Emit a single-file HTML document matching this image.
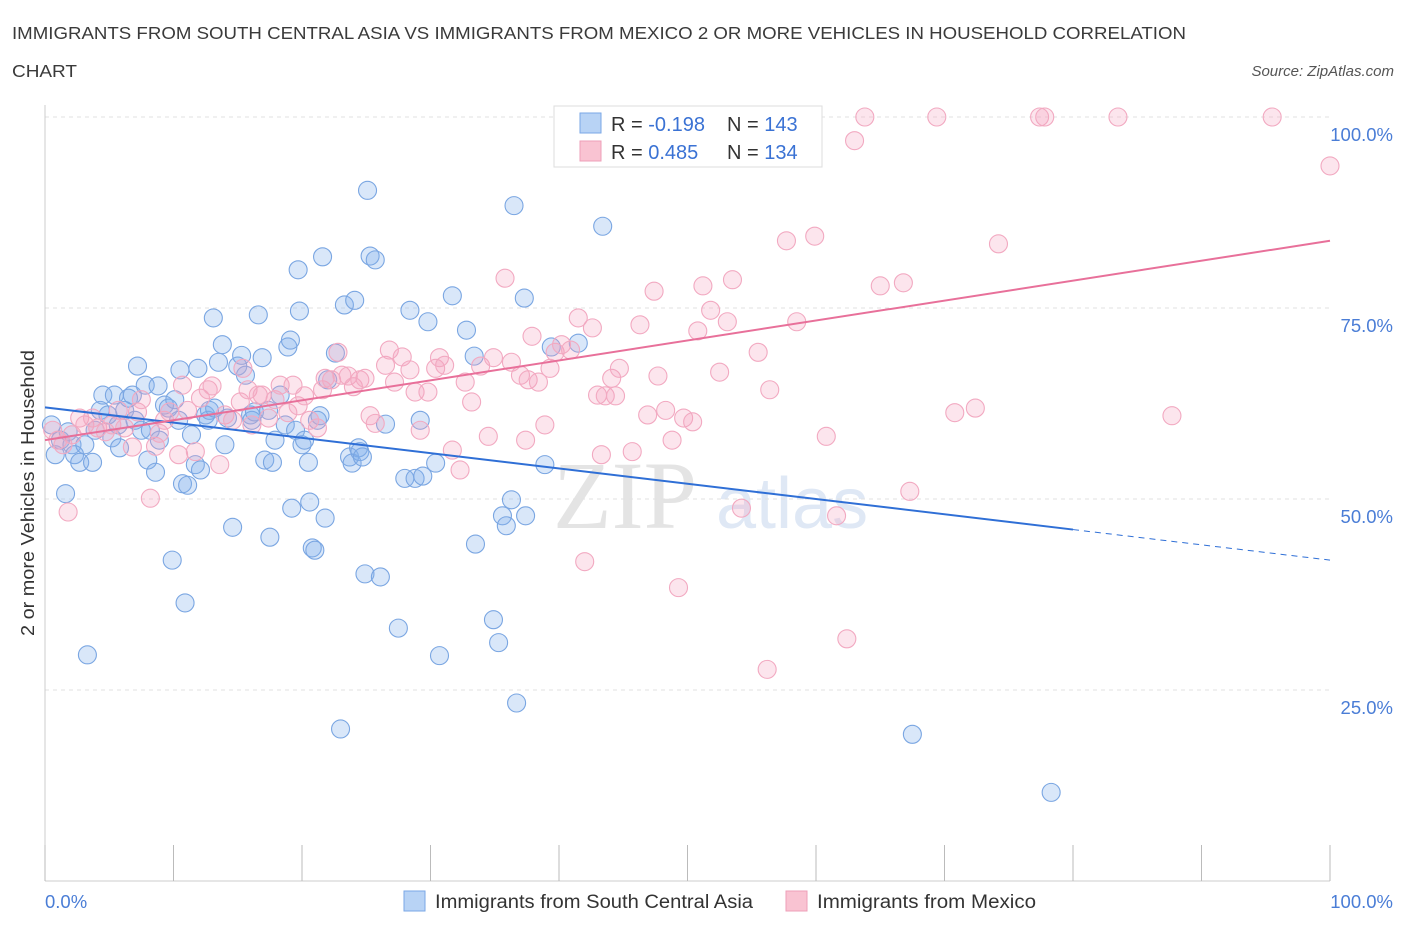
<!DOCTYPE html>
<html><head><meta charset="utf-8"><style>
body{margin:0;background:#fff;font-family:"Liberation Sans",sans-serif;}
</style></head><body>
<svg id="chart" width="1406" height="930" xmlns="http://www.w3.org/2000/svg" style="display:block">
<text x="12" y="39" font-size="17.5" fill="#3a3a3a" textLength="1174" lengthAdjust="spacingAndGlyphs">IMMIGRANTS FROM SOUTH CENTRAL ASIA VS IMMIGRANTS FROM MEXICO 2 OR MORE VEHICLES IN HOUSEHOLD CORRELATION</text>
<text x="12" y="77" font-size="17.5" fill="#3a3a3a" textLength="65" lengthAdjust="spacingAndGlyphs">CHART</text>
<text x="1394" y="76" font-size="15" fill="#555" font-style="italic" text-anchor="end">Source: ZipAtlas.com</text>
<text x="553" y="528" font-size="96" fill="#e4e4e4" font-family="Liberation Serif">ZIP</text>
<text x="716" y="528" font-size="72" fill="#dfe8f5">atlas</text>
<g id="grid"></g>
<g id="pts"></g>
<g id="trends"></g>
<text transform="translate(34,493) rotate(-90)" font-size="18.5" fill="#333" text-anchor="middle" textLength="286" lengthAdjust="spacingAndGlyphs">2 or more Vehicles in Household</text>
<text x="45" y="908" font-size="18.5" fill="#4a7dd6">0.0%</text>
<text x="1393" y="908" font-size="18.5" fill="#4a7dd6" text-anchor="end">100.0%</text>
<g>
<rect x="554" y="106" width="268" height="61" fill="#fff" stroke="#ddd"/>
<rect x="580" y="113" width="21" height="20" fill="#b8d3f5" stroke="#7aa7e6"/>
<rect x="580" y="141" width="21" height="20" fill="#f9c3d2" stroke="#ee9fb8"/>
<text x="611" y="131" font-size="20" fill="#333">R = <tspan fill="#3a72d4">-0.198</tspan></text>
<text x="727" y="131" font-size="20" fill="#333">N = <tspan fill="#3a72d4">143</tspan></text>
<text x="611" y="159" font-size="20" fill="#333">R = <tspan fill="#3a72d4"> 0.485</tspan></text>
<text x="727" y="159" font-size="20" fill="#333">N = <tspan fill="#3a72d4">134</tspan></text>
</g>
<g>
<rect x="404" y="891" width="21" height="20" fill="#b8d3f5" stroke="#7aa7e6"/>
<text x="435" y="908" font-size="19" fill="#333" textLength="318" lengthAdjust="spacingAndGlyphs">Immigrants from South Central Asia</text>
<rect x="786" y="891" width="21" height="20" fill="#f9c3d2" stroke="#ee9fb8"/>
<text x="817" y="908" font-size="19" fill="#333" textLength="219" lengthAdjust="spacingAndGlyphs">Immigrants from Mexico</text>
</g>
</svg>
<script>
const yTicks=[25,50,75,100];
const yTickLabels=["25.0%","50.0%","75.0%","100.0%"];
const xTicks=[0,10,20,30,40,50,60,70,80,90,100];
const blueX=[0.5,0.8,1.2,1.6,1.8,2.1,2.3,2.7,3.1,3.3,3.7,3.9,4.3,4.5,4.9,5.2,5.4,5.7,5.8,6.2,6.5,6.8,7.0,7.2,7.5,7.8,8.0,8.2,8.6,8.8,8.9,9.3,9.6,9.9,10.1,10.4,10.5,10.9,10.7,11.1,11.4,11.7,11.9,12.1,12.5,12.7,12.8,13.1,13.2,13.5,13.8,14.0,14.2,14.6,15.0,15.3,15.6,16.0,16.1,16.3,16.6,16.9,17.1,17.4,17.5,17.7,17.9,18.3,18.7,18.9,19.1,19.2,19.5,19.7,19.8,20.0,20.2,20.5,20.6,20.8,21.0,21.2,21.4,21.6,21.8,22.0,22.6,23.0,23.3,23.7,24.1,23.9,24.4,24.5,24.7,24.9,25.1,25.3,25.7,26.1,26.5,27.5,28.0,28.4,28.8,29.2,29.4,29.8,30.4,30.7,31.7,32.8,33.4,33.5,34.9,35.3,35.6,35.9,36.3,36.5,36.7,37.3,37.4,38.9,39.4,41.5,43.4,67.5,78.3];
const blueY=[59.7,55.8,57.7,50.7,58.8,57.1,55.8,54.8,57.1,29.6,54.8,59.0,61.6,63.6,61.0,58.0,63.6,59.7,56.7,61.6,63.2,63.6,60.3,67.4,59.0,64.9,55.1,59.0,53.5,64.8,57.7,62.3,61.9,42.0,63.0,60.3,66.9,36.4,52.0,51.8,58.4,54.5,67.1,53.8,61.0,60.3,61.6,73.7,61.9,67.9,70.2,57.1,60.6,46.3,67.4,68.8,66.2,61.0,60.3,61.4,74.1,68.5,55.1,61.6,45.0,54.8,57.7,63.6,59.7,69.9,70.8,48.8,59.0,80.0,74.6,57.1,57.7,54.8,49.6,43.6,43.3,60.3,60.9,81.7,47.5,65.6,69.1,19.9,75.4,55.5,76.0,54.7,56.7,56.2,55.5,40.2,90.4,81.8,81.3,39.8,59.8,33.1,52.7,74.7,52.7,60.3,53.0,73.2,54.7,29.5,76.6,72.1,68.7,44.1,34.2,31.2,47.8,46.5,49.9,88.4,23.3,76.3,47.8,54.5,69.9,70.4,85.7,19.2,11.6];
const pinkX=[0.6,1.0,1.4,1.8,2.1,2.7,3.1,3.7,4.1,4.7,5.2,5.7,6.2,6.8,7.2,7.5,8.2,8.6,8.9,9.3,9.7,10.4,10.7,11.1,11.7,12.1,12.7,13.0,13.6,14.0,14.6,15.2,15.4,15.8,16.1,16.6,16.9,17.4,17.9,18.3,18.9,19.3,19.7,20.2,20.6,21.2,21.6,21.8,22.3,22.8,23.1,23.6,24.0,24.5,24.9,25.3,25.7,26.5,26.8,27.2,27.8,28.4,28.8,29.2,29.8,30.4,30.7,31.1,31.7,32.3,32.7,33.2,33.9,34.5,34.9,35.8,36.3,37.0,37.4,37.6,37.9,38.4,38.9,39.3,39.7,40.2,40.9,41.5,42.0,42.6,43.0,43.3,43.6,44.1,44.4,44.7,45.7,46.3,46.9,47.4,47.7,48.3,48.8,49.3,49.7,50.4,50.8,51.2,51.8,52.5,53.1,53.5,54.2,55.3,55.5,56.4,57.7,58.5,59.9,60.8,61.6,62.4,63.0,63.8,65.0,66.8,67.3,69.4,70.8,72.4,74.2,77.4,77.8,83.5,87.7,95.5,100,56.2];
const pinkY=[59.0,57.7,57.1,48.3,58.4,60.6,59.7,60.6,59.3,58.8,59.7,61.6,59.3,56.8,61.4,63.0,50.1,56.9,58.6,60.3,61.4,55.8,64.9,61.6,56.2,63.2,64.3,64.8,54.5,61.0,60.3,62.7,67.1,64.3,59.7,63.6,63.6,60.6,63.0,64.9,61.3,64.9,62.2,63.5,60.3,59.3,64.3,65.8,65.6,69.2,66.2,66.1,64.7,65.6,65.8,60.9,59.9,67.5,69.5,65.3,68.6,66.9,64.0,59.0,64.0,67.1,68.5,67.5,56.4,53.8,65.3,62.7,67.4,58.2,68.5,78.9,67.9,66.2,57.7,65.6,71.3,65.3,59.7,67.1,69.2,70.2,69.5,73.7,41.8,72.4,63.6,55.8,63.5,65.8,63.5,67.1,56.2,72.8,61.0,77.2,66.1,61.6,57.7,38.4,60.6,60.1,72.0,77.9,74.7,66.6,73.2,78.7,48.8,100,69.2,64.3,83.8,73.2,84.4,58.2,47.8,31.7,96.9,100,77.9,78.3,51.0,100,61.3,61.9,83.4,100,100,100,60.9,100,93.6,27.7];
const blueTrend=[62.0,42.0];
const pinkTrend=[57.7,83.8];
const blueSolidEnd=80;
const NS="http://www.w3.org/2000/svg";
const X=v=>45+v*12.85, Y=v=>881-v*7.64;
function mk(t,a,p){const e=document.createElementNS(NS,t);for(const k in a)e.setAttribute(k,a[k]);p.appendChild(e);return e;}
const grid=document.getElementById('grid');
yTicks.forEach((t,i)=>{
 const l=mk('line',{x1:45,x2:1330,y1:Y(t),y2:Y(t),stroke:'#e2e2e2','stroke-dasharray':'4,4'},grid);
 
 
 const tx=mk('text',{x:1393,y:Y(t)+24,'font-size':18.5,fill:'#4a7dd6','text-anchor':'end'},grid);
 tx.textContent=yTickLabels[i];
 
 
});
const ax=mk('line',{x1:45,x2:45,y1:105,y2:881,stroke:'#ccc'},grid);


const bx=mk('line',{x1:45,x2:1330,y1:881,y2:881,stroke:'#ccc'},grid);


xTicks.forEach(t=>{
 const l=mk('line',{x1:X(t),x2:X(t),y1:845,y2:881,stroke:'#bbb'},grid);
 
 
});
const pts=document.getElementById('pts');
blueX.forEach((v,i)=>{
 const c=mk('circle',{cx:X(v),cy:Y(blueY[i]),r:9,fill:'rgba(130,175,235,0.3)',stroke:'#7aa6e2','stroke-width':1.1},pts);
 
 
});
pinkX.forEach((v,i)=>{
 const c=mk('circle',{cx:X(v),cy:Y(pinkY[i]),r:9,fill:'rgba(245,160,190,0.28)',stroke:'#f2a9c1','stroke-width':1.1},pts);
 
 
});
const tr=document.getElementById('trends');
const by=x=>blueTrend[0]+(blueTrend[1]-blueTrend[0])*x/100;
const b1=mk('line',{x1:X(0),y1:Y(by(0)),x2:X(blueSolidEnd),y2:Y(by(blueSolidEnd)),stroke:'#2f6fd6','stroke-width':2},tr);


const b2=mk('line',{x1:X(blueSolidEnd),y1:Y(by(blueSolidEnd)),x2:X(100),y2:Y(by(100)),stroke:'#2f6fd6','stroke-width':1,'stroke-dasharray':'6,5'},tr);


const p1=mk('line',{x1:X(0),y1:Y(pinkTrend[0]),x2:X(100),y2:Y(pinkTrend[1]),stroke:'#e8709a','stroke-width':2},tr);


</script>
</body></html>
